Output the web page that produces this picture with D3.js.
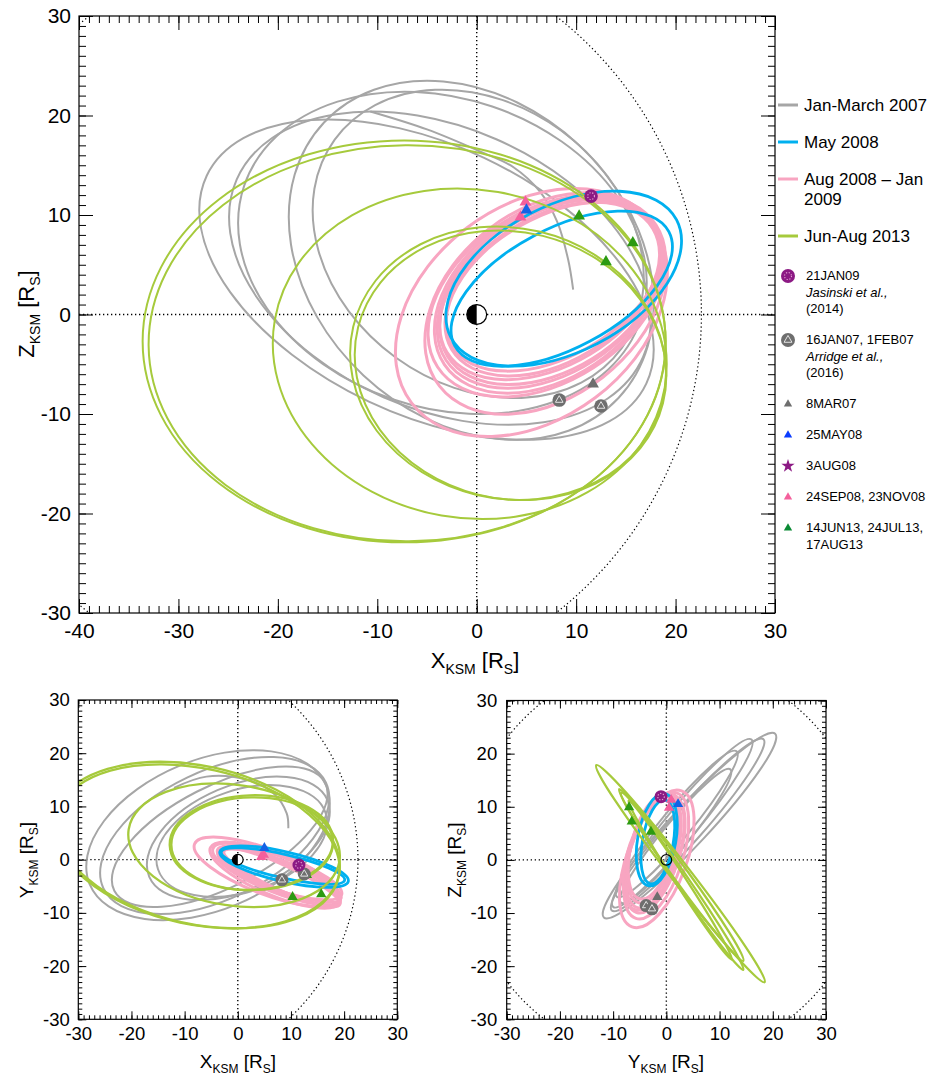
<!DOCTYPE html>
<meta charset="utf-8">
<head>
    <script src="https://d3js.org/d3.v7.min.js"></script>
    <style>
        body { margin: 0; background: #fff; }
        text { font-family: "Liberation Sans", Arial, Helvetica, sans-serif; }
    </style>
</head>
<body>
<div id="chart"></div>

<script>
    // tick labels
    const mainXTicks = [-40, -30, -20, -10, 0, 10, 20, 30]
    const mainZTicks = [-30, -20, -10, 0, 10, 20, 30]
    const sideTicks = [-30, -20, -10, 0, 10, 20, 30]

    // orbits, read off the picture as ellipses:
    // [centre h, centre v, semi-axis, semi-axis, tilt in degrees] in R_S
    const greyXZ = [[-5.05, 3.5, 24.45, 13.55, -25.3], [-3.7, 4.65, 22.3, 14.15, -23.6],
        [-3.45, 6.2, 21.05, 15.54, -18.8], [-0.55, 5.45, 20.28, 15.85, -43.1], [0.15, 7.1, 17.84, 14.11, -36]]
    const pinkXZ = [[5.5, 0.2, 15.1, 10.7, 37], [6.9, 1.1, 13.5, 9.4, 38], [7.05, 1.85, 13.1, 8.6, 33],
        [7.4, 2.2, 12.5, 8.1, 33], [7.45, 2.5, 12.2, 7.6, 31], [7.6, 2.55, 11.8, 7.3, 31],
        [7.8, 2.8, 11.9, 7.0, 30], [7.5, 2.3, 12.3, 7.9, 32], [7.2, 2.0, 12.6, 8.4, 34]]
    const blueXZ = [[8.75, 3.6, 12.8, 7.35, 27.5], [8.55, 2.6, 12.2, 6.0, 28]]
    const greenXZ = [[-7.3, -2.7, 26.3, 20.2, 0], [-7.0, -2.9, 26.0, 19.9, 0.5], [-0.7, -3.95, 19.9, 16.5, -9.9],
        [3.15, -4.9, 16.0, 13.6, -13.3], [3.4, -5.1, 15.8, 13.4, -14]]

    const greyXY = [[-5.6, 4.6, 24.1, 14.1, 22.6], [-4.35, 4.55, 23.17, 12.05, 25.5], [-3.4, 4.3, 22.27, 9.5, 27.1],
        [0.1, 4.0, 18.25, 9.87, 23.4], [0.75, 3.5, 16.63, 9.55, 18.6]]
    const pinkXY = [[5.5, -2.3, 14.6, 4.2, -21], [7.3, -2.7, 12.9, 3.4, -22], [7.7, -3.0, 12.5, 2.9, -23],
        [8.0, -3.2, 12.3, 2.5, -24], [8.2, -3.0, 12.0, 2.7, -21], [7.9, -2.6, 12.3, 3.1, -19],
        [8.3, -3.4, 12.0, 2.3, -25], [7.0, -2.9, 13.2, 3.8, -23]]
    const blueXY = [[8.7, -1.3, 12.4, 2.8, -13], [8.5, -1.2, 11.9, 2.2, -13]]
    const greenXY = [[-7.75, 2.75, 27.37, 14.9, -12], [-7.5, 2.5, 27.1, 14.6, -12.5], [-0.7, 2.7, 20.05, 11.34, -8.5],
        [2.55, 3.2, 15.36, 8.9, 2], [2.7, 3.0, 15.2, 8.7, 1]]

    const greyYZ = [[4.35, 6.45, 23.6, 3.6, 47], [4.0, 6.6, 21.5, 3.1, 48.5], [3.0, 6.9, 20.4, 3.0, 50.4],
        [1.95, 6.75, 17.7, 2.8, 50.5], [1.75, 4.5, 16.2, 2.5, 50.6]]
    const pinkYZ = [[-1.8, 0.2, 13.6, 5.6, 70], [-1.9, 0.8, 12.4, 5.0, 72], [-2.2, 1.2, 11.6, 4.6, 73],
        [-2.4, 1.6, 11.0, 4.4, 74], [-2.5, 2.0, 10.4, 4.2, 75], [-2.6, 2.4, 10.0, 4.0, 76], [-2.3, 1.4, 11.3, 4.8, 71]]
    const blueYZ = [[-1.8, 3.8, 8.8, 3.6, 80], [-1.6, 3.4, 8.0, 2.9, 80]]
    const greenYZ = [[2.65, -2.6, 25.8, 1.8, -52.2], [2.8, -3.7, 20.6, 1.2, -55.5],
        [2.6, -3.8, 17.8, 1.0, -57], [3.0, -3.2, 19.5, 1.4, -54]]

    // the unfinished grey pass that stops inside the loops
    const greyArcXZ = [[-10.7, 20.4], [-5, 18.6], [0.3, 16.4], [3.7, 14.8], [6.4, 12.3], [8.1, 9.3], [9.2, 5.5], [9.7, 2.5]]
    const greyArcXY = [[-12, 13.5], [-5.9, 15.6], [1.7, 15], [6.7, 12.5], [9.2, 8.7], [9.5, 5.9]]

    // magnetopause as a dotted circle: [centre h, centre v, radius]
    const mpXZ = [-15.5, 0, 38.1]
    const mpXY = [-18.3, 0, 40.9]
    const mpYZ = [0, 0, 37.7]

    // event positions [X, Y, Z] in R_S
    const jasinskiEvents = [[11.5, -1.0, 11.9]]
    const arridgeEvents = [[8.3, -3.8, -8.6], [12.5, -2.7, -9.2]]
    const mar07Events = [[11.7, -1.7, -7.0]]
    const may08Events = [[5.0, 2.2, 10.5]]
    const sepNov08Events = [[4.9, 0.9, 11.3], [4.4, 0.5, 9.8]]
    const jun13Events = [[10.3, -7.0, 9.9], [15.7, -6.5, 7.2], [13.0, -2.9, 5.3]]

    const orbitLegend = [["Jan-March 2007"], ["May 2008"], ["Aug 2008 \u2013 Jan", "2009"], ["Jun-Aug 2013"]]
    const eventLegend = [["21JAN09", "Jasinski et al.,", "(2014)"], ["16JAN07, 1FEB07", "Arridge et al.,", "(2016)"],
        ["8MAR07"], ["25MAY08"], ["3AUG08"], ["24SEP08, 23NOV08"], ["14JUN13, 24JUL13,", "17AUG13"]]

    const colGrey = "#a6a6a6", colBlue = "#00b0ef", colPink = "#f8a5c1", colGreen = "#a6ca3c"
    const colPurple = "#8c1a84", colMarkGrey = "#6e6e6e", colTriBlue = "#1462e6",
        colTriPink = "#f45f9c", colTriGreen = "#2c9a12"

    const svg = d3.select("#chart").append("svg")
        .attr("width", 943)
        .attr("height", 1078)

    function makePanel(name, xd, yd, left, right, top, bottom) {
        const x = d3.scaleLinear().domain(xd).range([left, right])
        const y = d3.scaleLinear().domain(yd).range([bottom, top])
        svg.append("clipPath").attr("id", "clip" + name)
            .append("rect")
            .attr("x", left).attr("y", top)
            .attr("width", right - left).attr("height", bottom - top)
        const g = svg.append("g").attr("clip-path", `url(#clip${name})`)
        return { x, y, g, left, right, top, bottom }
    }

    function dotted(sel, w) {
        return sel.attr("fill", "none").attr("stroke", "#000")
            .attr("stroke-width", w).attr("stroke-dasharray", "1.3 2.7")
    }

    function guides(p, mp) {
        dotted(p.g.append("line"), 1.4)
            .attr("x1", p.x(0)).attr("x2", p.x(0)).attr("y1", p.top).attr("y2", p.bottom)
        dotted(p.g.append("line"), 1.4)
            .attr("x1", p.left).attr("x2", p.right).attr("y1", p.y(0)).attr("y2", p.y(0))
        dotted(p.g.append("circle"), 1.2)
            .attr("cx", p.x(mp[0])).attr("cy", p.y(mp[1]))
            .attr("r", p.x(mp[2]) - p.x(0))
    }

    function orbits(p, list, color, width) {
        p.g.append("g").selectAll("ellipse")
            .data(list)
            .join("ellipse")
            .attr("cx", d => p.x(d[0]))
            .attr("cy", d => p.y(d[1]))
            .attr("rx", d => p.x(d[2]) - p.x(0))
            .attr("ry", d => p.y(0) - p.y(d[3]))
            .attr("transform", d => `rotate(${-d[4]} ${p.x(d[0])} ${p.y(d[1])})`)
            .attr("fill", "none")
            .attr("stroke", color)
            .attr("stroke-width", width)
    }

    function arc(p, pts, color, width) {
        p.g.append("path")
            .datum(pts)
            .attr("fill", "none")
            .attr("stroke", color)
            .attr("stroke-width", width)
            .attr("d", d3.line()
                .x(d => p.x(d[0]))
                .y(d => p.y(d[1]))
                .curve(d3.curveCatmullRom))
    }

    function saturn(p, half) {
        const r = p.x(1) - p.x(0), cx = p.x(0), cy = p.y(0)
        p.g.append("circle")
            .attr("cx", cx).attr("cy", cy).attr("r", r)
            .attr("fill", half ? "#fff" : "none")
            .attr("stroke", "#000").attr("stroke-width", 1.2)
        if (half) {
            p.g.append("path")
                .attr("d", `M${cx},${cy - r}A${r},${r} 0 0 0 ${cx},${cy + r}Z`)
                .attr("fill", "#000")
        }
    }

    function triangles(g, pts, px, py, color, size) {
        g.selectAll(null).data(pts).join("path")
            .attr("transform", d => `translate(${px(d)},${py(d)})`)
            .attr("d", d3.symbol(d3.symbolTriangle, size))
            .attr("fill", color)
    }

    function arridgeMark(g, pts, px, py, r) {
        const m = g.selectAll(null).data(pts).join("g")
            .attr("transform", d => `translate(${px(d)},${py(d)})`)
        m.append("circle").attr("r", r).attr("fill", colMarkGrey)
        m.append("path").attr("d", d3.symbol(d3.symbolTriangle, r * r * 0.55))
            .attr("fill", "none").attr("stroke", "#e4e4e4").attr("stroke-width", 1)
    }

    function jasinskiMark(g, pts, px, py, r) {
        const m = g.selectAll(null).data(pts).join("g")
            .attr("transform", d => `translate(${px(d)},${py(d)})`)
        m.append("circle").attr("r", r).attr("fill", colPurple)
        m.append("circle").attr("r", r * 0.5).attr("fill", "none")
            .attr("stroke", "#e6a4d6").attr("stroke-width", 1.1).attr("stroke-dasharray", "1.2 1.6")
    }

    function events(p, i, j, triSize, r) {
        const g = svg.append("g")
        const px = d => p.x(d[i]), py = d => p.y(d[j])
        triangles(g, jun13Events, px, py, colTriGreen, triSize)
        triangles(g, mar07Events, px, py, colMarkGrey, triSize)
        triangles(g, sepNov08Events, px, py, colTriPink, triSize)
        triangles(g, may08Events, px, py, colTriBlue, triSize)
        arridgeMark(g, arridgeEvents, px, py, r)
        jasinskiMark(g, jasinskiEvents, px, py, r)
    }

    function axes(p, xt, yt, fs, big, small, padX, padY) {
        const minorX = p.x.ticks(p.x.domain()[1] - p.x.domain()[0])
        const minorY = p.y.ticks(p.y.domain()[1] - p.y.domain()[0])
        const specs = [
            [d3.axisBottom(p.x), `translate(0,${p.bottom})`, xt, minorX, true, padX],
            [d3.axisTop(p.x), `translate(0,${p.top})`, xt, minorX, false, 0],
            [d3.axisLeft(p.y), `translate(${p.left},0)`, yt, minorY, true, padY],
            [d3.axisRight(p.y), `translate(${p.right},0)`, yt, minorY, false, 0]
        ]
        specs.forEach(([ax, tr, major, minor, labels, pad]) => {
            const gm = svg.append("g").attr("transform", tr)
                .call(ax.tickValues(minor).tickSize(-small).tickSizeOuter(0).tickFormat(""))
            gm.select(".domain").remove()
            const gM = svg.append("g").attr("transform", tr)
                .call(ax.tickValues(major).tickSize(-big).tickSizeOuter(0).tickPadding(pad)
                    .tickFormat(labels ? (d => String(d)) : ""))
            gM.select(".domain").remove()
            gM.selectAll("text")
                .attr("font-size", fs)
                .attr("font-family", '"Liberation Sans", Arial, sans-serif')
                .attr("fill", "#000")
            ;[gm, gM].forEach(s => s.selectAll("line").attr("stroke", "#000").attr("stroke-width", 1))
        })
        svg.append("rect")
            .attr("x", p.left).attr("y", p.top)
            .attr("width", p.right - p.left).attr("height", p.bottom - p.top)
            .attr("fill", "none").attr("stroke", "#000").attr("stroke-width", 1.2)
    }

    function title(x, y, letter, fs, rotate) {
        const sub = Math.round(fs * 0.64), shift = fs * 0.25
        const t = svg.append("text")
            .attr("x", x).attr("y", y)
            .attr("text-anchor", "middle")
            .attr("font-size", fs)
        if (rotate) t.attr("transform", `rotate(-90 ${x} ${y})`)
        t.append("tspan").text(letter)
        t.append("tspan").attr("font-size", sub).attr("dy", shift).text("KSM")
        t.append("tspan").attr("dy", -shift).text(" [R")
        t.append("tspan").attr("font-size", sub).attr("dy", shift).text("S")
        t.append("tspan").attr("dy", -shift).text("]")
    }

    // ---- main panel: X-Z ----
    const pMain = makePanel("main", [-40, 30], [-30, 30], 79, 775, 16, 613)
    guides(pMain, mpXZ)
    orbits(pMain, greyXZ, colGrey, 2)
    arc(pMain, greyArcXZ, colGrey, 2)
    orbits(pMain, pinkXZ, colPink, 3)
    orbits(pMain, blueXZ, colBlue, 2.8)
    orbits(pMain, greenXZ, colGreen, 2)
    saturn(pMain, true)
    events(pMain, 0, 2, 60, 6.8)
    axes(pMain, mainXTicks, mainZTicks, 21, 14, 7, 10, 8)
    title(475, 668, "X", 22, false)
    title(34, 314, "Z", 22, true)

    // ---- lower left: X-Y ----
    const pXY = makePanel("xy", [-30, 30], [-30, 30], 78.3, 397.3, 700, 1019.3)
    guides(pXY, mpXY)
    orbits(pXY, greyXY, colGrey, 2)
    arc(pXY, greyArcXY, colGrey, 2)
    orbits(pXY, pinkXY, colPink, 3)
    orbits(pXY, blueXY, colBlue, 2.8)
    orbits(pXY, greenXY, colGreen, 2.3)
    saturn(pXY, true)
    events(pXY, 0, 1, 46, 6.5)
    axes(pXY, sideTicks, sideTicks, 18.5, 8, 4, 7.5, 8.5)
    title(238, 1068, "X", 19, false)
    title(33, 860, "Y", 19, true)

    // ---- lower right: Y-Z ----
    const pYZ = makePanel("yz", [-30, 30], [-30, 30], 506.7, 826, 700.5, 1019.3)
    guides(pYZ, mpYZ)
    orbits(pYZ, greyYZ, colGrey, 2)
    orbits(pYZ, pinkYZ, colPink, 3)
    orbits(pYZ, blueYZ, colBlue, 2.8)
    orbits(pYZ, greenYZ, colGreen, 2.3)
    saturn(pYZ, false)
    events(pYZ, 1, 2, 46, 6.5)
    axes(pYZ, sideTicks, sideTicks, 18.5, 8, 4, 7.5, 9.5)
    title(666, 1068, "Y", 19, false)
    title(461, 860, "Z", 19, true)

    // ---- legend ----
    const legend = svg.append("g")
    const lineCols = [colGrey, colBlue, colPink, colGreen]
    let ly = 105
    orbitLegend.forEach((rows, k) => {
        legend.append("line")
            .attr("x1", 778).attr("x2", 798).attr("y1", ly).attr("y2", ly)
            .attr("stroke", lineCols[k]).attr("stroke-width", 3)
        rows.forEach((r, n) => legend.append("text")
            .attr("x", 804).attr("y", ly + 6 + n * 20)
            .attr("font-size", 17).text(r))
        ly += 37 + 20 * (rows.length - 1)
    })

    let ey = 276
    eventLegend.forEach((rows, k) => {
        const g = legend.append("g")
        const px = () => 788, py = () => ey
        if (k === 0) jasinskiMark(g, [0], px, py, 7)
        if (k === 1) arridgeMark(g, [0], px, py, 7)
        if (k === 2) triangles(g, [0], px, py, colMarkGrey, 30)
        if (k === 3) triangles(g, [0], px, py, "#0a3cff", 30)
        if (k === 4) g.append("path").attr("transform", `translate(788,${ey})`)
            .attr("d", d3.symbol(d3.symbolStar, 55)).attr("fill", colPurple)
        if (k === 5) triangles(g, [0], px, py, "#f4609c", 30)
        if (k === 6) triangles(g, [0], px, py, "#0a8a34", 30)
        rows.forEach((r, n) => legend.append("text")
            .attr("x", 806).attr("y", ey + 4 + n * 16.5)
            .attr("font-size", 13)
            .attr("font-style", n === 1 && k < 2 ? "italic" : "normal")
            .text(r))
        ey += 31 + 16.5 * (rows.length - 1)
    })
</script>
</body>
